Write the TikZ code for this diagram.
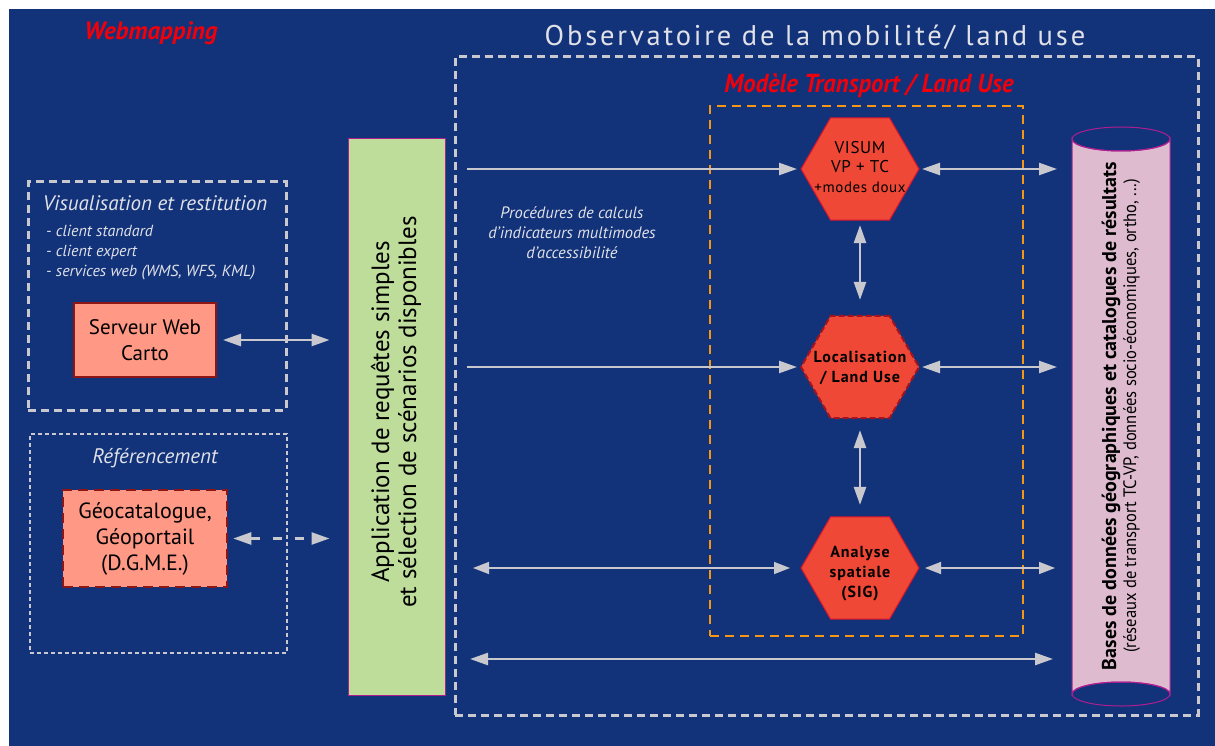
\documentclass[tikz,border=0pt]{standalone}
\usepackage{fontspec}
\setmainfont{PT Sans}
\newfontfamily\titlefont[LetterSpace=10]{PT Sans}
\newfontfamily\hexfont[LetterSpace=6]{PT Sans}
\newfontfamily\visumfont[LetterSpace=4]{PT Sans}
\usetikzlibrary{arrows.meta,shapes.geometric}
\definecolor{bgblue}{RGB}{18,51,122}
\definecolor{lgrey}{RGB}{200,200,206}
\definecolor{txtgrey}{RGB}{225,225,232}
\definecolor{orangeD}{RGB}{245,150,20}
\definecolor{hexfill}{RGB}{239,72,54}
\definecolor{hexline}{RGB}{215,20,45}
\definecolor{hexdash}{RGB}{165,20,30}
\definecolor{salmon}{RGB}{255,152,132}
\definecolor{darkred}{RGB}{140,22,22}
\definecolor{greenbox}{RGB}{190,221,155}
\definecolor{magentaL}{RGB}{175,30,145}
\definecolor{cylfill}{RGB}{222,187,207}
\definecolor{redtxt}{RGB}{240,0,10}
\newcommand\myfs[2]{\fontsize{#1}{#2}\selectfont}
\begin{document}
\begin{tikzpicture}[x=1pt,y=-1pt,
  arr/.style={draw=lgrey, line width=2.5pt, {Triangle[length=18pt,width=12pt]}-{Triangle[length=18pt,width=12pt]}},
  arrone/.style={draw=lgrey, line width=2.5pt, -{Triangle[length=18pt,width=12pt]}},
  arrthin/.style={draw=lgrey, line width=1.5pt, {Triangle[length=16pt,width=12pt]}-{Triangle[length=16pt,width=12pt]}},
  hexa/.style={regular polygon, regular polygon sides=6, minimum size=118pt, inner sep=0pt, outer sep=0pt,
    fill=hexfill, draw=hexline, line width=1pt},
  hextxt/.style={align=center, text=black, inner sep=0pt},
  salmonbox/.style={rectangle, fill=salmon, draw=darkred, line width=2pt, align=center, text=black, inner sep=0pt},
  whitetxt/.style={text=txtgrey, align=center, inner sep=0pt},
  frame/.style={draw=lgrey, line width=3pt, dash pattern=on 8pt off 5pt, rectangle, inner sep=0pt}
]
\useasboundingbox (0,0) rectangle (1215,746);
\fill[white] (0,0) rectangle (1215,746);
\fill[bgblue] (9,9) rectangle (1215,746);

% titles
\node[text=redtxt, inner sep=0pt, font=\myfs{25}{28}\bfseries\itshape] (webmap) at (151,33) {Webmapping};
\node[text=txtgrey, inner sep=0pt, font=\titlefont\myfs{28.5}{32}] (obstitle) at (815,37) {Observatoire de la mobilité/ land use};
\node[text=redtxt, inner sep=0pt] (modtitle) at (869,86) {\scalebox{0.95}[1]{\myfs{26}{30}\bfseries\itshape Modèle Transport / Land Use}};

% frames
\node[frame, minimum width=743pt, minimum height=658pt] (obs) at (826.5,386) {};
\node[draw=orangeD, line width=2.5pt, dash pattern=on 9pt off 6pt, rectangle, inner sep=0pt,
  minimum width=313pt, minimum height=530pt] (modele) at (866.5,371) {};
\node[frame, minimum width=258pt, minimum height=228pt] (visu) at (157,296) {};
\node[draw=lgrey, line width=1.5pt, dash pattern=on 4pt off 3pt, rectangle, inner sep=0pt,
  minimum width=257pt, minimum height=219pt] (refbox) at (158.5,543.5) {};

% left texts
\node[whitetxt, font=\myfs{21}{24}\itshape] (visutitle) at (155,203) {Visualisation et restitution};
\node[whitetxt, anchor=west, align=left, font=\myfs{16}{20}\itshape] (visulist) at (46,253) {- client standard\\ - client expert\\ - services web (WMS, WFS, KML)};
\node[whitetxt, font=\myfs{21}{24}\itshape] (reftitle) at (155,458) {Référencement};

% left boxes
\node[salmonbox, minimum width=142pt, minimum height=74pt, font=\myfs{21}{26}] (serveur) at (145,340) {Serveur Web\\Carto};
\node[salmonbox, dash pattern=on 10pt off 6pt, line width=2.5pt, minimum width=164pt, minimum height=97pt, font=\myfs{22}{26}] (geocat) at (145,538.5)
  {Géocatalogue,\\Géoportail\\(D.G.M.E.)};

% application box
\node[rectangle, fill=greenbox, draw=magentaL, line width=1pt, minimum width=97pt, minimum height=556pt, inner sep=0pt] (app) at (396.5,417) {};
\node[rotate=90, align=center, inner sep=0pt, text=black, font=\myfs{25}{27}] (apptext) at (396,412)
  {Application de requêtes simples\\ et sélection de scénarios disponibles};

% procedures text
\node[whitetxt, font=\myfs{16.5}{20}\itshape] (proc) at (572,233) {Procédures de calculs\\ d'indicateurs multimodes\\ d'accessibilité};

% hexagons
\node[hexa] (visum) at (860,169) {};
\node[hextxt, font=\visumfont\myfs{17}{19.5}] (visumtxt) at (860,167) {VISUM\\VP + TC\\{\myfs{15}{19.5}+modes doux}};
\node[hexa, draw=hexdash, line width=2pt, dash pattern=on 6pt off 3pt] (loc) at (860,367) {};
\node[hextxt, font=\hexfont\bfseries\myfs{16}{20}] (loctxt) at (860,368) {Localisation\\/ Land Use};
\node[hexa] (sig) at (860,568) {};
\node[hextxt, font=\hexfont\bfseries\myfs{16}{20}] (sigtxt) at (860,574) {Analyse\\spatiale\\(SIG)};

% database cylinder
\node[rectangle, minimum width=98pt, minimum height=578pt, inner sep=0pt] (db) at (1121,417) {};
\filldraw[fill=cylfill, draw=magentaL, line width=1pt]
  (1072,139) -- (1072,694) arc[start angle=180, end angle=0, x radius=49pt, y radius=12pt]
  -- (1170,139) arc[start angle=0, end angle=-180, x radius=49pt, y radius=12pt] -- cycle;
\draw[magentaL, line width=1pt] (1121,139) ellipse[x radius=49pt, y radius=12pt];
\draw[magentaL, line width=1pt] (1121,694) ellipse[x radius=49pt, y radius=12pt];
\node[rotate=90, align=center, inner sep=0pt, text=black, font=\myfs{20}{20}] (dbtext) at (1121,416)
  {{\bfseries Bases de données géographiques et catalogues de résultats}\\
   \scalebox{0.92}[1]{\myfs{18}{20}(réseaux de transport TC-VP, données socio-économiques, ortho, ...)}};

% free-end coordinates
\coordinate (l1) at (467,169);
\coordinate (l2) at (467,367);
\coordinate (l3) at (473,568);
\coordinate (l4) at (470,659);
\coordinate (r1) at (1057,169);
\coordinate (r2) at (1057,367);
\coordinate (r3) at (1055,568);
\coordinate (r4) at (1053,659);

% connectors
\draw[arr, shorten <=6pt, shorten >=18pt] (serveur.east) -- (serveur.east -| app.west);
\draw[draw=lgrey, line width=2.5pt, dash pattern=on 9pt off 13pt, {Triangle[length=18pt,width=12pt]}-{Triangle[length=18pt,width=12pt]},
  shorten <=5pt, shorten >=18pt] (geocat.east) -- (geocat.east -| app.west);
\draw[arrone, shorten >=4pt] (l1) -- (visum.west);
\draw[arrone, shorten >=4pt] (l2) -- (loc.west);
\draw[arrthin, shorten >=11pt] (l3) -- (sig.west);
\draw[arr, shorten <=3pt] (visum.east) -- (r1);
\draw[arr, shorten <=3pt] (loc.east) -- (r2);
\draw[arrthin, shorten <=6pt] (sig.east) -- (r3);
\draw[arr] (l4) -- (r4);
\draw[arr, shorten <=5pt, shorten >=16pt] (visum.south) -- (loc.north);
\draw[arr, shorten <=12pt, shorten >=12pt] (loc.south) -- (sig.north);
\end{tikzpicture}
\end{document}
